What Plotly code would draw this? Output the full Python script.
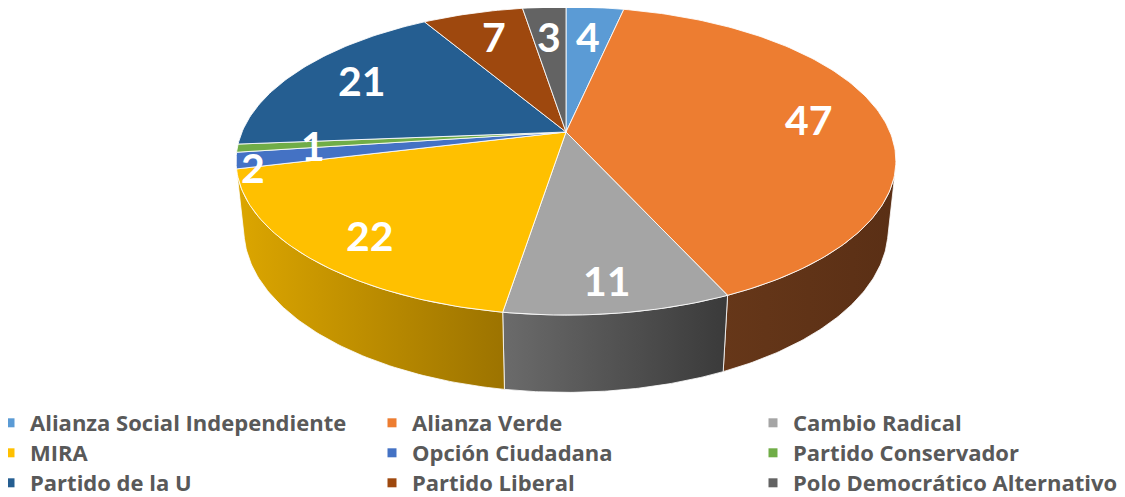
import numpy as np
import plotly.graph_objects as go

# Seats per party (data)
parties = ["Alianza Social Independiente", "Alianza Verde", "Cambio Radical",
           "MIRA", "Opción Ciudadana", "Partido Conservador",
           "Partido de la U", "Partido Liberal", "Polo Democrático Alternativo"]
seats = [4, 47, 11, 22, 2, 1, 21, 7, 3]

# Office palette for the top faces
top_colors = ["#5B9BD5", "#ED7D31", "#A5A5A5", "#FFC000", "#4472C4",
              "#70AD47", "#255E91", "#9E480E", "#636363"]
# Darker shades for the visible side walls (left -> right gradient)
side_colors = [("#3f6d96", "#2f5473"), ("#663719", "#5a2f15"),
               ("#6b6b6b", "#3a3a3a"), ("#dca600", "#9c7300"),
               ("#2f5089", "#233d68"), ("#4f7a32", "#3b5b25"),
               ("#1a4266", "#13324d"), ("#6f320a", "#542607"),
               ("#464646", "#333333")]

# The page body keeps its default 8px margin, so the figure is a bit
# smaller than the window and the axes are given in window pixels.
PAGE_W, PAGE_H, BODY = 1125, 497, 8

# 3D pie geometry (window pixels)
CX, CY = 566, 132          # where the slices meet
SCALE = 324                # radius in pixels
TILT = np.radians(27.3)    # view elevation
DIST = 4.72                # camera distance, gives the perspective
THICK = 0.239              # pie thickness, in radius units
LABEL_FX, LABEL_FY = 0.77, 0.82
LABEL_SIZE = 41
NUM_FONT = "Lato"
LEGEND_FONT = "Open Sans"

# Legend grid: text start of each column, text middle of each row
LEGEND_COLS = [30, 412, 793]
LEGEND_ROWS = [423, 453, 483]


def project(theta, r, y):
    # theta measured clockwise from the back (12 o'clock), y = height
    X = r * np.sin(theta)
    Z = -r * np.cos(theta)
    c, s = np.cos(TILT), np.sin(TILT)
    f = DIST / (DIST - (Z * c + y * s))
    return CX + SCALE * X * f, CY - SCALE * (y * c - Z * s) * f


total = sum(seats)
ends = 2 * np.pi * np.cumsum(seats) / total
starts = ends - 2 * np.pi * np.array(seats) / total

# Side walls only show where their outward normal faces the camera
zmin = 1 / (DIST * np.cos(TILT))
vis0, vis1 = np.arccos(-zmin), 2 * np.pi - np.arccos(-zmin)

fig = go.Figure()

# Side walls first, the top face is drawn over them
for i, (a0, a1) in enumerate(zip(starts, ends)):
    a, b = max(a0, vis0), min(a1, vis1)
    if a >= b:
        continue
    t = np.linspace(a, b, 80)
    xt, yt = project(t, 1, 0)
    xb, yb = project(t[::-1], 1, -THICK)
    fig.add_trace(go.Scatter(
        x=np.concatenate([xt, xb, xt[:1]]), y=np.concatenate([yt, yb, yt[:1]]),
        mode="lines", fill="toself",
        fillgradient=dict(type="horizontal",
                          colorscale=[[0, side_colors[i][0]], [1, side_colors[i][1]]]),
        line=dict(color="rgba(255,255,255,0.8)", width=1),
        hoverinfo="skip", showlegend=False,
    ))

# Top face slices
for i, (a0, a1) in enumerate(zip(starts, ends)):
    t = np.linspace(a0, a1, max(6, int(np.degrees(a1 - a0))))
    xa, ya = project(t, 1, 0)
    fig.add_trace(go.Scatter(
        x=np.concatenate([[CX], xa, [CX]]), y=np.concatenate([[CY], ya, [CY]]),
        mode="lines", fill="toself", fillcolor=top_colors[i],
        line=dict(color="rgba(255,255,255,0.85)", width=1),
        hoverinfo="skip", showlegend=False,
    ))

# Value labels, placed along the mid angle of each slice
for i, (a0, a1) in enumerate(zip(starts, ends)):
    mid = (a0 + a1) / 2
    fx, fy, dy = LABEL_FX, LABEL_FY, 0
    if parties[i] == "Opción Ciudadana":
        # thin slice: Excel pushes this one out to the rim
        fx, fy, dy = 0.95, 0.95, 8
    ex, ey = project(mid, 1, 0)
    ly = CY + fy * (ey - CY) + dy
    # keep the text box inside the top of the figure
    ly = max(ly, BODY + 0.7 * LABEL_SIZE)
    fig.add_annotation(
        x=CX + fx * (ex - CX), y=ly,
        text=f"<b>{seats[i]}</b>", showarrow=False,
        font=dict(family=NUM_FONT, size=LABEL_SIZE, color="white"),
    )

fig_w, fig_h = PAGE_W - BODY, PAGE_H - BODY

# Legend: one small legend per entry so the 3x3 grid keeps Excel's spacing
legends = {}
for i, name in enumerate(parties):
    key = "legend" if i == 0 else f"legend{i + 1}"
    fig.add_trace(go.Scatter(
        x=[None], y=[None], mode="markers", name=name,
        marker=dict(symbol="square", size=9, color=top_colors[i]),
        legend=key,
    ))
    # plotly puts the item text ~40px right of the legend's left edge
    # and its middle ~21px below the legend's top
    legends[key] = dict(
        x=(LEGEND_COLS[i % 3] - 40 - BODY) / fig_w,
        y=1 - (LEGEND_ROWS[i // 3] - 21 - BODY) / fig_h,
        orientation="v", yanchor="top", xanchor="left",
        font=dict(family=LEGEND_FONT, size=22, color="#595959", weight="bold"),
        bgcolor="rgba(0,0,0,0)", itemclick=False, itemdoubleclick=False,
    )

fig.update_layout(
    width=fig_w, height=fig_h,
    margin=dict(l=0, r=0, t=0, b=0, autoexpand=False),
    plot_bgcolor="white", paper_bgcolor="white",
    **legends,
)
fig.update_xaxes(range=[BODY, PAGE_W], visible=False, fixedrange=True)
fig.update_yaxes(range=[PAGE_H, BODY], visible=False, fixedrange=True)

fig.write_html("out.html")
